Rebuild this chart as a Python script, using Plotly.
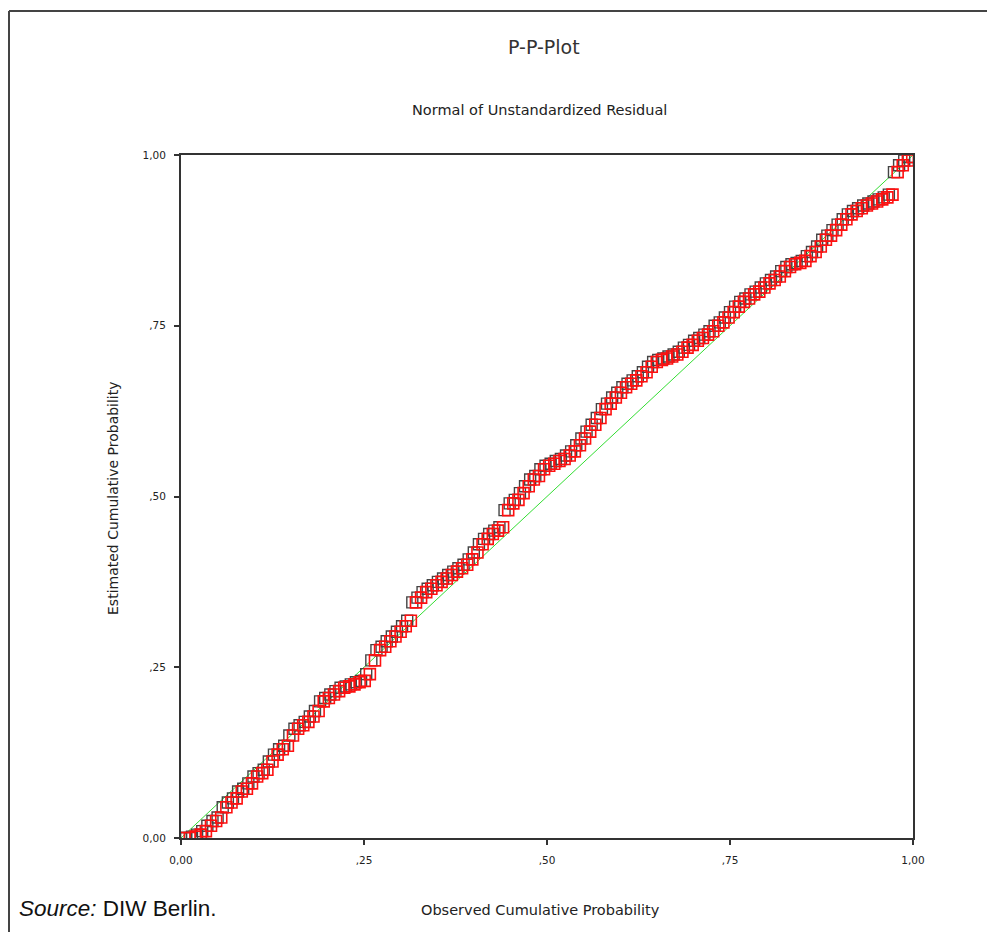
import plotly.graph_objects as go

# Observed cumulative probability (x) and estimated cumulative probability (y)
observed = [0.005, 0.012, 0.02, 0.027, 0.034, 0.041, 0.048, 0.055, 0.062, 0.069, 0.076, 0.083, 0.09, 0.097,
            0.104, 0.111, 0.118, 0.125, 0.132, 0.139, 0.146, 0.153, 0.16, 0.167, 0.174, 0.181, 0.188, 0.195,
            0.202, 0.209, 0.216, 0.223, 0.23, 0.237, 0.244, 0.251, 0.258, 0.265, 0.272, 0.279, 0.286, 0.293,
            0.3, 0.307, 0.314, 0.321, 0.328, 0.335, 0.342, 0.349, 0.356, 0.363, 0.37, 0.377, 0.384, 0.391,
            0.398, 0.405, 0.412, 0.419, 0.426, 0.433, 0.44, 0.447, 0.454, 0.461, 0.468, 0.475, 0.482, 0.489,
            0.496, 0.503, 0.51, 0.517, 0.524, 0.531, 0.538, 0.545, 0.552, 0.559, 0.566, 0.573, 0.58, 0.587,
            0.594, 0.601, 0.608, 0.615, 0.622, 0.629, 0.636, 0.643, 0.65, 0.657, 0.664, 0.671, 0.678, 0.685,
            0.692, 0.699, 0.706, 0.713, 0.72, 0.727, 0.734, 0.741, 0.748, 0.755, 0.762, 0.769, 0.776, 0.783,
            0.79, 0.797, 0.804, 0.811, 0.818, 0.825, 0.832, 0.839, 0.846, 0.853, 0.86, 0.867, 0.874, 0.881,
            0.888, 0.895, 0.902, 0.909, 0.916, 0.923, 0.93, 0.937, 0.944, 0.951, 0.958, 0.965, 0.972, 0.979,
            0.986, 0.993, 0.999]
estimated = [0.0, 0.0, 0.002, 0.005, 0.01, 0.018, 0.025, 0.03, 0.045, 0.052, 0.058, 0.068, 0.072, 0.08,
             0.09, 0.095, 0.1, 0.112, 0.122, 0.13, 0.135, 0.15, 0.16, 0.165, 0.17, 0.178, 0.186, 0.2,
             0.205, 0.21, 0.215, 0.22, 0.222, 0.225, 0.228, 0.23, 0.24, 0.26, 0.275, 0.28, 0.288, 0.295,
             0.302, 0.31, 0.318, 0.345, 0.352, 0.36, 0.365, 0.37, 0.375, 0.38, 0.385, 0.39, 0.395, 0.4,
             0.408, 0.418, 0.43, 0.438, 0.445, 0.45, 0.455, 0.48, 0.49, 0.495, 0.505, 0.515, 0.525, 0.53,
             0.54, 0.545, 0.548, 0.552, 0.555, 0.56, 0.566, 0.575, 0.585, 0.595, 0.605, 0.615, 0.628, 0.636,
             0.645, 0.652, 0.66, 0.665, 0.67, 0.676, 0.682, 0.69, 0.697, 0.7, 0.702, 0.705, 0.708, 0.712,
             0.718, 0.722, 0.728, 0.732, 0.737, 0.742, 0.75, 0.755, 0.762, 0.77, 0.778, 0.785, 0.79, 0.796,
             0.8, 0.806, 0.812, 0.817, 0.822, 0.83, 0.836, 0.84, 0.842, 0.845, 0.852, 0.858, 0.866, 0.876,
             0.882, 0.89, 0.898, 0.906, 0.913, 0.918, 0.922, 0.926, 0.929, 0.932, 0.935, 0.938, 0.942, 0.975,
             0.985, 0.992, 0.997]

ref_line = [0.0, 1.0]
tick_vals = [0.0, 0.25, 0.5, 0.75, 1.0]
tick_text = ["0,00", ",25", ",50", ",75", "1,00"]

FONT = "Liberation Sans, Arial, sans-serif"
WIDE = "DejaVu Sans, Verdana, sans-serif"
shadow_dx = 0.005

# plot area in screen pixels (page has an 8px body offset)
PL, PR, PT, PB = 181, 913, 155, 838
OFF = 8
W, H = 995, 932


def px(xp):
    return (xp - PL) / (PR - PL)


def py(yp):
    return (PB - yp) / (PB - PT)


fig = go.Figure()
fig.add_trace(go.Scatter(x=ref_line, y=ref_line, mode="lines",
                         line=dict(color="#33dd33", width=1), hoverinfo="skip"))
fig.add_trace(go.Scatter(x=[v - shadow_dx for v in observed], y=estimated, mode="markers",
                         marker=dict(symbol="square-open", size=11, color="#444444",
                                     line=dict(width=1.4, color="#444444"))))
fig.add_trace(go.Scatter(x=observed, y=estimated, mode="markers",
                         marker=dict(symbol="square-open", size=11, color="#ff1010",
                                     line=dict(width=1.6, color="#ff1010"))))

axis_common = dict(range=[0, 1], tickvals=tick_vals, ticktext=tick_text, showgrid=False,
                   zeroline=False, showline=True, linecolor="#333333", linewidth=2, mirror=True,
                   ticks="outside", ticklen=5, tickwidth=1.5, tickcolor="#333333",
                   tickfont=dict(family=WIDE, size=10.5, color="#222222"))

fig.update_layout(
    width=W, height=H,
    margin=dict(l=PL - OFF, r=W - (PR - OFF), t=PT - OFF, b=H - (PB - OFF)),
    paper_bgcolor="white", plot_bgcolor="white",
    showlegend=False,
    xaxis=dict(**axis_common),
    yaxis=dict(**axis_common),
    font=dict(family=FONT),
)
fig.update_xaxes(ticklabelstandoff=6)
fig.update_yaxes(ticklabelstandoff=6)

fig.update_layout(annotations=[
    dict(text="P-P-Plot", x=px(544), y=py(47), xref="paper", yref="paper", showarrow=False,
         xanchor="center", yanchor="middle", font=dict(family=WIDE, size=19, color="#333333")),
    dict(text="Normal of Unstandardized Residual", x=px(539), y=py(110), xref="paper",
         yref="paper", showarrow=False, xanchor="center", yanchor="middle",
         font=dict(family=WIDE, size=14.5, color="#222222")),
    dict(text="Estimated Cumulative Probability", x=px(113), y=py(498), xref="paper",
         yref="paper", showarrow=False, textangle=-90, xanchor="center", yanchor="middle",
         font=dict(family=WIDE, size=14, color="#222222")),
    dict(text="Observed Cumulative Probability", x=px(540), y=py(910), xref="paper",
         yref="paper", showarrow=False, xanchor="center", yanchor="middle",
         font=dict(family=WIDE, size=14.5, color="#222222")),
    dict(text="<i>Source:</i> DIW Berlin.", x=px(17), y=py(908), xref="paper",
         yref="paper", showarrow=False, xanchor="left", yanchor="middle",
         font=dict(family=FONT, size=22.5, color="#111111")),
])

fig.update_layout(shapes=[
    dict(type="line", xref="paper", yref="paper", x0=px(9), x1=px(1010),
         y0=py(11), y1=py(11), line=dict(color="#444444", width=2)),
    dict(type="line", xref="paper", yref="paper", x0=px(9), x1=px(9),
         y0=py(11), y1=py(950), line=dict(color="#444444", width=2)),
])

fig.write_html("out.html")
